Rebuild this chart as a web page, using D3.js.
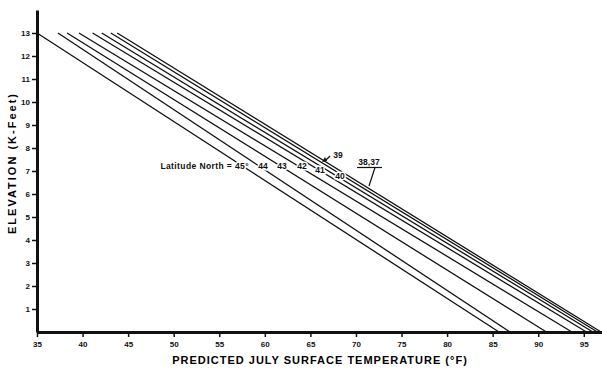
<!DOCTYPE html>
<html>
<head>
<meta charset="utf-8">
<script src="https://cdn.jsdelivr.net/npm/d3@7"></script>
<style>
  body { margin: 0; background: #fff; }
  svg { display: block; font-family: "Liberation Sans", Arial, sans-serif; }
  .axis path, .axis line { stroke: #111; }
  .axis text { font-weight: bold; font-size: 8px; fill: #111; }
</style>
</head>
<body>
<div id="chart"></div>
<script>
// latitude lines: temperature at 13 kft and at sea level
var latitudes = ["45", "44", "43", "42", "41", "40", "39", "38,37"];
var tempAt13k = [35.0, 37.3, 38.3, 39.6, 41.1, 42.1, 43.1, 43.8];
var tempAt0k  = [85.7, 86.9, 90.9, 93.7, 95.3, 96.0, 96.5, 96.9];
var xTicks = [35, 40, 45, 50, 55, 60, 65, 70, 75, 80, 85, 90, 95];
var yTicks = [1, 2, 3, 4, 5, 6, 7, 8, 9, 10, 11, 12, 13];

var width = 602, height = 376;
var svg = d3.select("#chart").append("svg").attr("width", width).attr("height", height);

var x = d3.scaleLinear().domain([35, 97]).range([37, 602]);
var y = d3.scaleLinear().domain([0, 14]).range([332, 10]);

// lines
var lines = latitudes.map(function(d, i) {
    return { lat: d, pts: [[tempAt13k[i], 13], [tempAt0k[i], 0]] };
});
var line = d3.line().x(function(d) { return x(d[0]); }).y(function(d) { return y(d[1]); });

svg.append("g").selectAll("path").data(lines).enter().append("path")
    .attr("d", function(d) { return line(d.pts); })
    .attr("fill", "none")
    .attr("stroke", "#111")
    .attr("stroke-width", 1.3);

// axes
var xAxis = svg.append("g").attr("class", "axis")
    .attr("transform", "translate(0," + y(0) + ")")
    .call(d3.axisBottom(x).tickValues(xTicks).tickSize(5).tickSizeOuter(0).tickPadding(4));
xAxis.select(".domain").attr("stroke-width", 3);
xAxis.selectAll(".tick line").attr("stroke-width", 1.5);

var yAxis = svg.append("g").attr("class", "axis")
    .attr("transform", "translate(" + x(35) + ",0)")
    .call(d3.axisLeft(y).tickValues(yTicks).tickSize(5).tickSizeOuter(0).tickPadding(2));
yAxis.select(".domain").attr("stroke-width", 3);
yAxis.selectAll(".tick line").attr("stroke-width", 1.5);

// axis titles
svg.append("text")
    .attr("x", 320).attr("y", 364)
    .attr("text-anchor", "middle")
    .attr("font-weight", "bold").attr("font-size", 11).attr("letter-spacing", 1.0)
    .text("PREDICTED JULY SURFACE TEMPERATURE (°F)");

svg.append("text")
    .attr("transform", "translate(16,163) rotate(-90)")
    .attr("text-anchor", "middle")
    .attr("font-weight", "bold").attr("font-size", 11).attr("letter-spacing", 2)
    .text("ELEVATION (K-Feet)");

// line labels (white halo breaks the lines like the original)
var ann = svg.append("g").attr("font-weight", "bold").attr("font-size", 8.5).attr("fill", "#111")
    .attr("stroke", "#fff").attr("stroke-width", 3).attr("paint-order", "stroke");

ann.append("text").attr("x", 249).attr("y", 169).attr("text-anchor", "end")
    .attr("letter-spacing", 0.4).text("Latitude North = 45°");
var labelPos = [["44", 263, 169], ["43", 282, 169], ["42", 302, 169], ["41", 320, 173], ["40", 340, 179], ["39", 338, 158]];
labelPos.forEach(function(p) {
    ann.append("text").attr("x", p[1]).attr("y", p[2]).attr("text-anchor", "middle").text(p[0]);
});
ann.append("text").attr("x", 369).attr("y", 165).attr("text-anchor", "middle").text("38,37");

// pointers
svg.append("path").attr("d", "M330,156L325,161").attr("stroke", "#111").attr("stroke-width", 1.2);
svg.append("path").attr("d", "M322,162L327,161L325,157Z").attr("fill", "#111");
svg.append("path").attr("d", "M357,167.5L382,167.5").attr("stroke", "#111").attr("stroke-width", 1.2);
svg.append("path").attr("d", "M375,167.5L369,186").attr("stroke", "#111").attr("stroke-width", 1.2);
</script>
</body>
</html>
